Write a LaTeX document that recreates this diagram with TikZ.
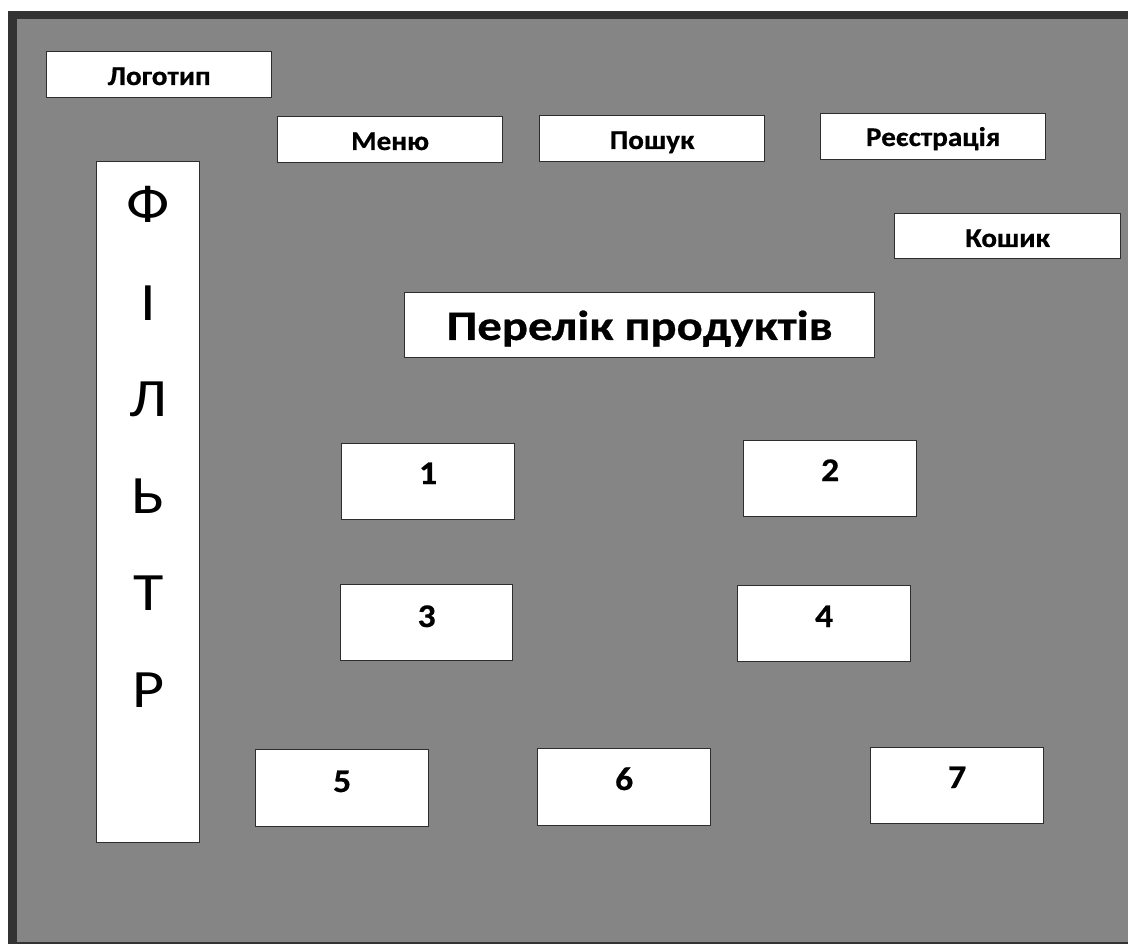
\documentclass[tikz,border=0pt]{standalone}
\usepackage{fontspec}
\setmainfont{Carlito}
\newfontfamily\labelfont[FakeStretch=1.08, FakeBold=0.6]{Carlito Bold}
\newfontfamily\titlefont[FakeStretch=1.16, FakeBold=0.6]{Carlito Bold}
\newfontfamily\letterfont[FakeStretch=1.15]{Carlito}
\definecolor{pagegray}{HTML}{858585}
\definecolor{framedark}{HTML}{333333}
\definecolor{edge}{HTML}{2E2E2E}
\tikzset{
  block/.style={draw=edge, line width=1.3pt, fill=white, inner sep=0pt, anchor=north west},
  lbl/.style={anchor=base, inner sep=0pt, font=\labelfont\fontsize{27}{27}\selectfont},
  numlbl/.style={anchor=base, inner sep=0pt, font=\labelfont\fontsize{33}{33}\selectfont},
  bigletter/.style={anchor=base, inner sep=0pt, font=\letterfont\fontsize{54}{54}\selectfont}
}
\newcommand{\blk}[5]{% name, x1, y1, x2, y2
  \node[block, minimum width={(#4-#2)*1pt}, minimum height={(#5-#3)*1pt}] (#1) at (#2,#3) {};}
\begin{document}
\begin{tikzpicture}[x=1pt, y=-1pt]
  \useasboundingbox (0,0) rectangle (1128,944);
  % page frame and backdrop
  \fill[white] (0,0) rectangle (1128,944);
  \fill[framedark] (8,11) rectangle (1128,944);
  \fill[pagegray] (17,19) rectangle (1128,942);

  % header blocks
  \blk{logo}{46}{51}{271}{97}
  \blk{menu}{277}{116}{502}{162}
  \blk{search}{539}{115}{764}{161}
  \blk{signup}{820}{113}{1045}{159}
  \blk{cart}{894}{213}{1120}{258}
  \blk{title}{404}{292}{874}{357}
  \blk{filter}{96}{161}{199}{842}

  % product cards
  \blk{p1}{341}{443}{514}{519}
  \blk{p2}{743}{440}{916}{516}
  \blk{p3}{340}{584}{512}{660}
  \blk{p4}{737}{585}{910}{661}
  \blk{p5}{255}{749}{428}{826}
  \blk{p6}{537}{748}{710}{825}
  \blk{p7}{870}{747}{1043}{823}

  % labels
  \node[lbl] (tlogo) at (logo.center |- 0,85) {Логотип};
  \node[lbl] (tmenu) at (menu.center |- 0,150) {Меню};
  \node[lbl] (tsearch) at (search.center |- 0,149) {Пошук};
  \node[lbl] (tsignup) at (signup.center |- 0,146) {Реєстрація};
  \node[lbl] (tcart) at (cart.center |- 0,247) {Кошик};
  \node[anchor=base, inner sep=0pt, font=\titlefont\fontsize{42}{42}\selectfont] (ttitle) at (title.center |- 0,340) {Перелік продуктів};

  \node[numlbl] (n1) at (p1.center |- 0,484) {1};
  \node[numlbl] (n2) at (p2.center |- 0,481) {2};
  \node[numlbl] (n3) at (p3.center |- 0,627) {3};
  \node[numlbl] (n4) at (p4.center |- 0,627) {4};
  \node[numlbl] (n5) at (p5.center |- 0,792) {5};
  \node[numlbl] (n6) at (p6.center |- 0,790) {6};
  \node[numlbl] (n7) at (p7.center |- 0,788) {7};

  % vertical filter caption
  \node[bigletter] (f1) at (filter.center |- 0,223) {Ф};
  \node[bigletter] (f2) at (filter.center |- 0,320) {І};
  \node[bigletter] (f3) at (filter.center |- 0,416) {Л};
  \node[bigletter] (f4) at (filter.center |- 0,513) {Ь};
  \node[bigletter] (f5) at (filter.center |- 0,610) {Т};
  \node[bigletter] (f6) at (filter.center |- 0,707) {Р};
\end{tikzpicture}
\end{document}
